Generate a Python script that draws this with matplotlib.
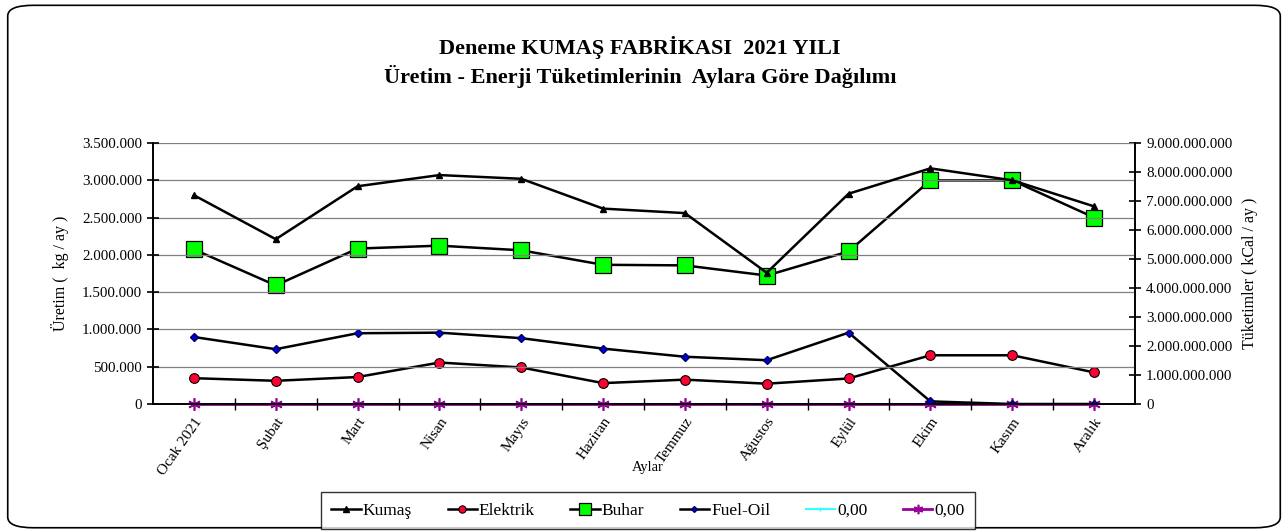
import numpy as np
import matplotlib
matplotlib.use('Agg')
from matplotlib import pyplot as plt
from matplotlib.ticker import FuncFormatter, FixedLocator
from matplotlib.patches import FancyBboxPatch

aylar = ['Ocak 2021', 'Şubat', 'Mart', 'Nisan', 'Mayıs', 'Haziran',
         'Temmuz', 'Ağustos', 'Eylül', 'Ekim', 'Kasım', 'Aralık']

# production, kg / month (left axis)
kumas = [2800000, 2210000, 2920000, 3070000, 3020000, 2620000,
         2560000, 1760000, 2820000, 3160000, 3000000, 2650000]

# consumptions, kCal / month (right axis)
elektrik = [890e6, 800e6, 930e6, 1430e6, 1260e6, 720e6,
            840e6, 700e6, 880e6, 1680e6, 1680e6, 1090e6]
buhar = [5330e6, 4090e6, 5360e6, 5460e6, 5300e6, 4800e6,
         4780e6, 4430e6, 5260e6, 7710e6, 7710e6, 6430e6]
fuel_oil = [2310e6, 1890e6, 2440e6, 2460e6, 2270e6, 1910e6,
            1630e6, 1510e6, 2460e6, 90e6, 0, 0]
bos1 = [0] * 12
bos2 = [0] * 12

left_ticks = np.arange(0, 3500001, 500000)
right_ticks = np.arange(0, 9000000001, 1000000000)

serif = 'Liberation Serif'
plt.rcParams['font.family'] = serif


def nokta(v, pos=None):
    return '{:,.0f}'.format(v).replace(',', '.')


fig = plt.figure(figsize=(12.88, 5.32), dpi=100)
ax = fig.add_axes([0.1188, 0.2406, 0.7624, 0.4906])
ax2 = ax.twinx()

x = np.arange(len(aylar))

ax.plot(x, kumas, color='black', lw=1.8, marker='^', ms=5,
        mfc='black', mec='black', label='Kumaş', zorder=5)

ax2.plot(x, bos1, color='#33ffff', lw=1.5, marker='+', ms=4, label='0,00')
ax2.plot(x, bos2, color='#990099', lw=2, marker=(6, 2, 0), ms=9,
         mew=1.2, label='0,00', clip_on=False)
ax2.plot(x, fuel_oil, color='black', lw=1.8, marker='D', ms=4,
         mfc='#0000cc', mec='#000066', label='Fuel-Oil')
ax2.plot(x, elektrik, color='black', lw=1.8, marker='o', ms=7,
         mfc='#ff0033', mec='black', mew=0.8, label='Elektrik')
ax2.plot(x, buhar, color='black', lw=1.8, marker='s', ms=11,
         mfc='#00ff00', mec='black', mew=0.9, label='Buhar')

ax.set_xlim(-0.5, len(aylar) - 0.5)
ax.set_ylim(0, 3500000)
ax2.set_ylim(0, 9000000000)
ax.set_zorder(ax2.get_zorder() + 1)
ax.patch.set_visible(False)

ax.set_yticks(left_ticks)
ax2.set_yticks(right_ticks)
ax.yaxis.set_major_formatter(FuncFormatter(nokta))
ax2.yaxis.set_major_formatter(FuncFormatter(nokta))
ax.yaxis.grid(True, color='#808080', lw=0.9)

ax.set_xticks(x)
ax.set_xticklabels(aylar, rotation=55, ha='right', va='top',
                   rotation_mode='anchor', fontsize=11)
ax.tick_params(axis='x', length=0, pad=8)
ax.xaxis.set_minor_locator(FixedLocator(np.arange(0.5, len(aylar) - 1, 1)))
ax.tick_params(axis='x', which='minor', direction='inout', length=8, width=1)
ax.tick_params(axis='y', direction='inout', length=8, width=1.2,
               labelsize=10.8, pad=4)
ax2.tick_params(axis='y', direction='inout', length=8, width=1.2,
                labelsize=10.8, pad=4)

for a in (ax, ax2):
    a.spines['top'].set_visible(False)
    a.spines['left'].set_linewidth(1.2)
    a.spines['right'].set_linewidth(1.2)
    a.spines['bottom'].set_linewidth(1.2)

ax.set_ylabel('Üretim (  kg / ay )', fontsize=11.5, labelpad=9)
ax2.set_ylabel('Tüketimler ( kCal / ay )', fontsize=11.5, labelpad=7)
fig.text(0.503, 0.121, 'Aylar', ha='center', va='center', fontsize=10.5)

fig.text(0.497, 0.91, 'Deneme KUMAŞ FABRİKASI  2021 YILI', ha='center',
         va='center', fontsize=16, fontweight='bold')
fig.text(0.497, 0.857, 'Üretim - Enerji Tüketimlerinin  Aylara Göre Dağılımı',
         ha='center', va='center', fontsize=16, fontweight='bold')

h1, l1 = ax.get_legend_handles_labels()
h2, l2 = ax2.get_legend_handles_labels()
hd = dict(zip(['c', 'm', 'f', 'e', 'b'], h2))
handles = h1 + [hd['e'], hd['b'], hd['f'], hd['c'], hd['m']]
labels = ['Kumaş', 'Elektrik', 'Buhar', 'Fuel-Oil', '0,00', '0,00']
leg = fig.legend(handles, labels, loc='center', bbox_to_anchor=(0.503, 0.04),
                 ncol=6, fontsize=12.5, frameon=True, fancybox=False,
                 edgecolor='black', handlelength=1.7, handletextpad=0.1,
                 columnspacing=2.05, borderpad=0.6, markerscale=0.75)
leg.get_frame().set_linewidth(1)

fig.patches.append(FancyBboxPatch((0.006, 0.008), 0.988, 0.982,
                                  boxstyle='round,pad=0,rounding_size=0.02',
                                  transform=fig.transFigure, fill=False,
                                  edgecolor='black', lw=1.2))

fig.savefig('out.png', dpi=100)
